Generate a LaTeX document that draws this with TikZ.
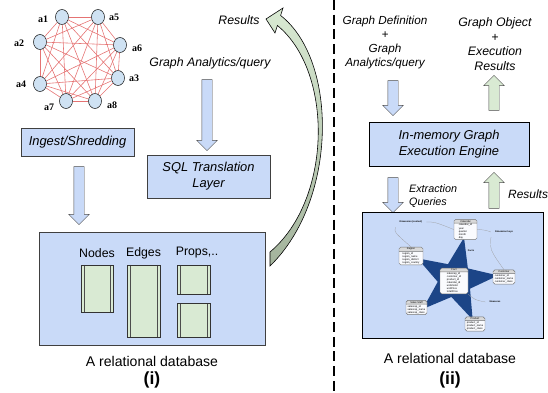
\documentclass[tikz,border=0pt]{standalone}
\usepackage{fontspec}
\setmainfont{Liberation Sans}
\newfontfamily\labelserif{Liberation Serif}
\usetikzlibrary{shapes.geometric, shapes.arrows, shapes.multipart, calc}
\definecolor{boxblue}{HTML}{C9DAF8}
\definecolor{boxgreen}{HTML}{D9EAD3}
\definecolor{nodeblue}{HTML}{CFE2F3}
\definecolor{edgered}{HTML}{E57373}
\definecolor{starnavy}{HTML}{1C4587}
\definecolor{arrowgray}{HTML}{A3B39C}

\tikzset{
  gnode/.style={draw, ellipse, fill=nodeblue, minimum width=0.39cm, minimum height=0.45cm, inner sep=0},
  glabel/.style={font=\labelserif\bfseries\fontsize{8.5}{9}\selectfont},
  gedge/.style={color=edgered, line width=0.5pt},
  procbox/.style={draw=black!75, fill=boxblue, font=\itshape\fontsize{11}{13.5}\selectfont, align=center},
  dbbox/.style={draw=black!75, fill=boxblue},
  tbl/.style={draw=black!80, fill=boxgreen, path picture={
      \draw[black!70] ([xshift=2.5pt]path picture bounding box.north west) -- ([xshift=2.5pt]path picture bounding box.south west);
      \draw[black!70] ([xshift=-2.5pt]path picture bounding box.north east) -- ([xshift=-2.5pt]path picture bounding box.south east);}},
  downarr/.style={single arrow, draw=black!70, fill=boxblue, rotate=-90, inner sep=0, inner ysep=0.15cm,
      single arrow head extend=0.15cm, single arrow tip angle=90},
  uparr/.style={downarr, fill=boxgreen, rotate=180},
  itlabel/.style={font=\itshape\fontsize{10.5}{12.5}\selectfont, align=center},
  dblabel/.style={font=\fontsize{12}{14}\selectfont},
  partlabel/.style={font=\bfseries\fontsize{15}{17}\selectfont},
  dimtbl/.style={rectangle split, rectangle split parts=2, draw=black!55, rounded corners=1.5pt,
      rectangle split part fill={black!15, white!90!boxblue}, inner sep=0.6pt, align=left,
      font=\fontsize{2.2}{2.6}\selectfont},
  schemalabel/.style={font=\bfseries\fontsize{2}{2.4}\selectfont},
  schemalink/.style={draw=black!40, line width=0.2pt}
}

\begin{document}
\begin{tikzpicture}[x=0.03cm, y=-0.03cm]
  \useasboundingbox (0,0) rectangle (548,393);

  % graph
  \node[gnode] (a1) at (62,17) {};
  \node[gnode] (a5) at (98,17) {};
  \node[gnode] (a2) at (40,42) {};
  \node[gnode] (a6) at (120,45) {};
  \node[gnode] (a4) at (40,84) {};
  \node[gnode] (a3) at (118,78) {};
  \node[gnode] (a7) at (66,101) {};
  \node[gnode] (a8) at (95,101) {};
  \foreach \i in {1,...,7} {
    \pgfmathtruncatemacro\nxt{\i+1}
    \foreach \j in {\nxt,...,8} \draw[gedge] (a\i) -- (a\j);
  }
  \node[glabel] (la1) at (43,19) {a1};
  \node[glabel] (la5) at (114,17) {a5};
  \node[glabel] (la2) at (19,43) {a2};
  \node[glabel] (la6) at (137,48) {a6};
  \node[glabel] (la4) at (21,84) {a4};
  \node[glabel] (la3) at (134,78) {a3};
  \node[glabel] (la7) at (49,107) {a7};
  \node[glabel] (la8) at (112,105) {a8};

  % left part
  \node[procbox, minimum width=3.39cm, minimum height=0.84cm] (ingest) at (77.5,142) {Ingest/Shredding};
  \node[downarr, minimum height=1.74cm] (arringest) at (79,193) {};
  \node[itlabel] (query) at (210,63) {Graph Analytics/query};
  \node[downarr, minimum height=2.13cm] (arrquery) at (207,112.5) {};
  \node[procbox, minimum width=3.69cm, minimum height=1.29cm] (sql) at (208.5,176.5) {SQL Translation\\Layer};
  \node[itlabel] (res1) at (239,20) {Results};

  \node[dbbox, minimum width=6.78cm, minimum height=3.39cm] (db1) at (152,288.5) {};
  \node[font=\fontsize{10.5}{12}\selectfont] (lnodes) at (97,253) {Nodes};
  \node[font=\fontsize{10.5}{12}\selectfont] (ledges) at (143.5,253) {Edges};
  \node[font=\fontsize{10.5}{12}\selectfont] (lprops) at (197,253) {Props,..};
  \node[tbl, minimum width=0.96cm, minimum height=1.41cm] (tnodes) at (97,288.5) {};
  \node[tbl, minimum width=0.99cm, minimum height=2.16cm] (tedges) at (143.5,301) {};
  \node[tbl, minimum width=0.99cm, minimum height=0.87cm] (tprops1) at (193.5,279.5) {};
  \node[tbl, minimum width=0.99cm, minimum height=1.02cm] (tprops2) at (193.5,320) {};
  \node[dblabel] (cap1) at (152,361) {A relational database};
  \node[partlabel] (part1) at (152,380) {(i)};

  \shade[draw=black, line width=0.5pt, top color=boxgreen, middle color=boxgreen, bottom color=arrowgray]
    (266,19) -- (283,8) -- (280.6,15.5) .. controls (338,60) and (338,200) .. (270,266)
    -- (270,252) .. controls (332,200) and (334,72) .. (277.4,25.5) -- (275,33) -- cycle;

  % separator
  \coordinate (septop) at (334,0);
  \coordinate (sepbot) at (334,393);
  \draw[line width=1.7pt, dash pattern=on 8.5pt off 4pt] (septop) -- (sepbot);

  % right part
  \node[itlabel, font=\itshape\fontsize{10}{11.8}\selectfont] (gdef) at (385,42.5) {Graph Definition\\+\\Graph\\Analytics/query};
  \node[itlabel, font=\itshape\fontsize{10.5}{12.4}\selectfont] (gobj) at (495,44) {Graph Object\\+\\Execution\\Results};
  \node[downarr, minimum height=1.05cm] (arrdef) at (393,95.5) {};
  \node[uparr, minimum height=1.05cm] (arrobj) at (494,95.5) {};
  \node[procbox, draw=black, minimum width=4.8cm, minimum height=1.32cm] (engine) at (449,144) {In-memory Graph\\Execution Engine};
  \node[downarr, minimum height=1.05cm] (arrextr) at (393,192.5) {};
  \node[uparr, minimum height=1.08cm] (arrres) at (494,193) {};
  \node[itlabel, font=\itshape\fontsize{9.2}{11}\selectfont, align=left, anchor=west] (extr) at (405,196) {Extraction\\Queries};
  \node[itlabel, font=\itshape\fontsize{10.2}{12}\selectfont, anchor=west] (res2) at (504,194) {Results};

  \node[dbbox, draw=black, line width=0.8pt, minimum width=5.43cm, minimum height=3.78cm] (db2) at (452.5,275) {};
  \node[star, star points=5, star point ratio=2.5, minimum size=2.6cm, inner sep=0, fill=starnavy, rotate=-12] (star) at (455,280) {};
  \node[dimtbl, minimum width=0.84cm] (fact) at (454,281) {Fact\nodepart{two}salesrep\_id\\customer\_id\\product\_id\\calendar\_id\\unitsSold\\unitPrice\\totalPrice};
  \node[dimtbl, minimum width=0.69cm] (calendar) at (465.5,229.5) {Calendar\nodepart{two}calendar\_id\\year\\quarter\\month\\day};
  \node[dimtbl, minimum width=0.72cm] (region) at (411,256) {Region\nodepart{two}region\_id\\region\_name\\region\_district\\region\_country};
  \node[dimtbl, minimum width=0.66cm] (customer) at (504,277) {Customer\nodepart{two}customer\_id\\customer\_name\\customer\_class};
  \node[dimtbl, minimum width=0.63cm] (staff) at (416.5,307.5) {Sales Staff\nodepart{two}salesrep\_id\\salesrep\_name\\salesrep\_class};
  \node[dimtbl, minimum width=0.6cm] (product) at (475,324) {Product\nodepart{two}product\_id\\product\_name\\product\_class};
  \node[schemalabel] (lctx) at (411,222) {Dimension (context)};
  \node[schemalabel] (lkeys) at (504,232) {Dimension keys};
  \node[schemalabel] (lfacts) at (471,251) {Facts};
  \node[schemalabel] (lmeas) at (495,302) {Measures};
  \draw[schemalink] (lctx.east) .. controls (435,222) .. (calendar.west);
  \draw[schemalink] (lctx.south west) .. controls (394,232) .. (region.north);
  \draw[schemalink] (lkeys.west) .. controls (485,230) .. (calendar.east);
  \draw[schemalink] (lkeys.south west) .. controls (490,250) .. (customer.north);
  \draw[schemalink] (fact.south east) .. controls (475,300) .. (lmeas.west);
  \node[dblabel] (cap2) at (450,358) {A relational database};
  \node[partlabel] (part2) at (450,380) {(ii)};
\end{tikzpicture}
\end{document}
